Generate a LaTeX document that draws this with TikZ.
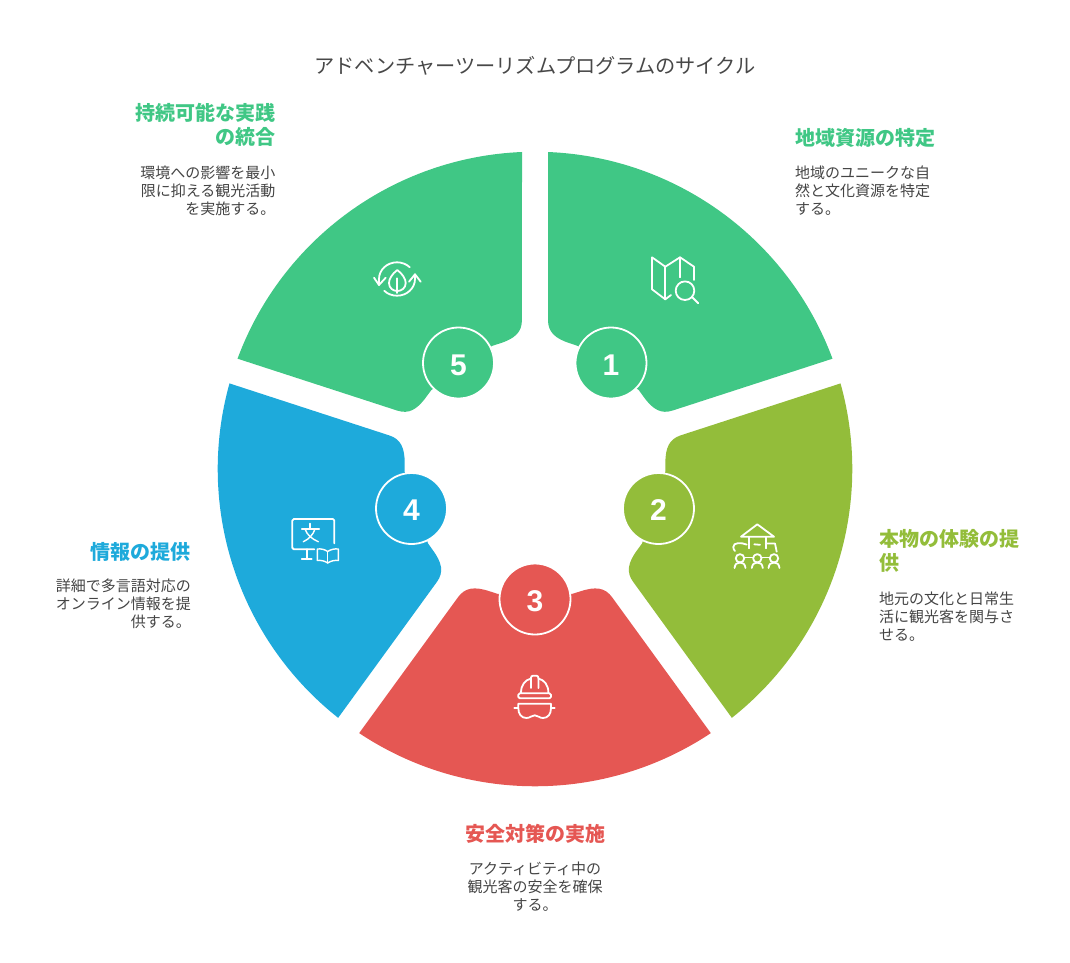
\documentclass[tikz,border=0pt]{standalone}
\usepackage{fontspec}
\setmainfont{Noto Sans CJK JP}
\newfontfamily\digitfont{Liberation Sans}
\definecolor{leafgreen}{HTML}{40C785}
\definecolor{olivegreen}{HTML}{93BD3A}
\definecolor{alertred}{HTML}{E55753}
\definecolor{skyblue}{HTML}{1EAADB}
\definecolor{bodygrey}{HTML}{444444}
\definecolor{titlegrey}{HTML}{484848}
\newcommand{\segmentpath}{(13,-317) arc[start angle=87.65, end angle=20.35, radius=317.3pt]
  -- (137.7,-58.5) .. controls (126.3,-54.7) and (117.9,-59.3) .. (108.7,-72.1)
  -- (103.8,-78.9) -- (43,-123) -- (35,-125.7)
  .. controls (20,-130.5) and (13,-137) .. (13,-149) -- cycle}
\tikzset{
  numdisc/.style={circle, draw=white, line width=1.8pt, minimum size=71pt, inner sep=0pt,
    text=white, text height=24pt, text depth=0pt, font=\digitfont\bfseries\fontsize{30}{30}\selectfont},
  headtext/.style={inner sep=0pt, font=\bfseries\fontsize{20}{24}\selectfont},
  bodytext/.style={inner sep=0pt, text=bodygrey, font=\fontsize{15}{18}\selectfont},
  iconline/.style={draw=white, line width=1.8pt, line cap=round, line join=round}
}

\begin{document}
\begin{tikzpicture}[x=1pt, y=-1pt]
  \useasboundingbox (0,0) rectangle (1070,962);
  % the five segments
  \fill[leafgreen, shift={(535,469)}] \segmentpath;
  \fill[olivegreen, shift={(535,469)}, rotate=-72] \segmentpath;
  \fill[alertred, shift={(535,469)}, rotate=-144] \segmentpath;
  \fill[skyblue, shift={(535,469)}, rotate=-216] \segmentpath;
  \fill[leafgreen, shift={(535,469)}, rotate=-288] \segmentpath;
  % number discs
  \node[numdisc, fill=leafgreen] (disc1) at (611,363) {1};
  \node[numdisc, fill=olivegreen] (disc2) at (658.5,508.5) {2};
  \node[numdisc, fill=alertred] (disc3) at (535,599) {3};
  \node[numdisc, fill=skyblue] (disc4) at (411.5,508.5) {4};
  \node[numdisc, fill=leafgreen] (disc5) at (458.5,363) {5};
  % title
  \node[inner sep=0pt, text=titlegrey, font=\fontsize{20.2}{24}\selectfont] (title) at (535,66)
    {アドベンチャーツーリズムプログラムのサイクル};
  % labels
  \node[headtext, text=leafgreen, anchor=west] (head1) at (795,138) {地域資源の特定};
  \node[bodytext, align=left, anchor=north west] (body1) at (795,166)
    {地域のユニークな自\\然と文化資源を特定\\する。};
  \node[headtext, text=olivegreen, align=left, anchor=north west] (head2) at (879,529.5)
    {本物の体験の提\\供};
  \node[bodytext, align=left, anchor=north west] (body2) at (879,592)
    {地元の文化と日常生\\活に観光客を関与さ\\せる。};
  \node[headtext, text=alertred] (head3) at (535,834) {安全対策の実施};
  \node[bodytext, align=center, anchor=north] (body3) at (535,862)
    {アクティビティ中の\\観光客の安全を確保\\する。};
  \node[headtext, text=skyblue, anchor=east] (head4) at (191,552) {情報の提供};
  \node[bodytext, align=right, anchor=north east] (body4) at (191,579)
    {詳細で多言語対応の\\オンライン情報を提\\供する。};
  \node[headtext, text=leafgreen, align=right, anchor=north east] (head5) at (275.5,103.5)
    {持続可能な実践\\の統合};
  \node[bodytext, align=right, anchor=north east] (body5) at (275.5,166)
    {環境への影響を最小\\限に抑える観光活動\\を実施する。};
  % map icon
  \draw[iconline] (694,280) -- (694,266.7) -- (680,257.3) -- (665.3,266.7) -- (652,257.3) -- (652,289.3) -- (665.3,299.3) -- (671,295);
  \draw[iconline] (665.3,266.7) -- (665.3,299.3);
  \draw[iconline] (680,257.3) -- (680,277.3);
  \draw[iconline] (685,290.7) circle[radius=9.3pt];
  \draw[iconline] (692,297) -- (698.3,303.3);
  % school icon
  \draw[iconline] (741,536.7) -- (757.3,524.3) -- (774,536.7) -- cycle;
  \draw[iconline] (749,536.7) -- (749,548.3);
  \draw[iconline] (765.7,536.7) -- (765.7,548.3);
  \draw[iconline] (754.3,544.3) -- (760,544.8);
  \draw[iconline] (746.7,544.6) .. controls (742,542.5) and (733,542) .. (733.3,547) .. controls (733.4,549) and (734,550) .. (735,551);
  \draw[iconline] (765.7,543.5) -- (775,543.5) -- (776.7,551.7);
  \draw[iconline] (740,558.3) circle[radius=4.2pt];
  \draw[iconline] (757.3,558.3) circle[radius=4.2pt];
  \draw[iconline] (774,558.3) circle[radius=4.2pt];
  \draw[iconline] (734.5,568) .. controls (735,564) and (737,562.5) .. (740,562.5) .. controls (743,562.5) and (745,564) .. (745.5,568);
  \draw[iconline] (751.8,568) .. controls (752.3,564) and (754.3,562.5) .. (757.3,562.5) .. controls (760.3,562.5) and (762.3,564) .. (762.8,568);
  \draw[iconline] (768.5,568) .. controls (769,564) and (771,562.5) .. (774,562.5) .. controls (777,562.5) and (779,564) .. (779.5,568);
  \draw[iconline] (744.5,557.5) -- (753,557.5);
  \draw[iconline] (761.8,557.5) -- (769.5,557.5);
  % helmet icon
  \draw[iconline, rounded corners=1.5pt] (518.3,693.3) rectangle (551,698.3);
  \draw[iconline] (521,692.7) .. controls (521,685) and (525,680) .. (531,678.5);
  \draw[iconline] (548.4,692.7) .. controls (548.4,685) and (544.4,680) .. (538.4,678.5);
  \draw[iconline, rounded corners=2pt] (531,688) -- (531,675.7) -- (538.4,675.7) -- (538.4,688);
  \draw[iconline] (514.3,707.7) -- (518.3,707.7);
  \draw[iconline] (551,707.7) -- (554.7,707.7);
  \draw[iconline] (518.3,703.7) -- (551,703.7) -- (551,708) .. controls (551,714) and (548,718) .. (543,718)
    .. controls (539,718) and (538,715.3) .. (534.7,715.3) .. controls (531.4,715.3) and (530.4,718) .. (526.4,718)
    .. controls (521.4,718) and (518.3,714) .. (518.3,708) -- cycle;
  % screen and book icon
  \draw[iconline, rounded corners=1.5pt] (334.3,543.3) -- (334.3,519) -- (292.3,519) -- (292.3,549.3) -- (314.3,549.3);
  \draw[iconline] (306.7,549.3) -- (306.7,559.3);
  \draw[iconline] (301.7,559.3) -- (311.7,559.3);
  \draw[iconline, line width=1.4pt] (310,523.5) -- (310,529);
  \draw[iconline, line width=1.4pt] (301.7,529) -- (319.3,529);
  \draw[iconline, line width=1.4pt] (315,529) .. controls (313,535) and (309,539) .. (303.3,541.7);
  \draw[iconline, line width=1.4pt] (305,529) .. controls (307,535) and (312,539) .. (318.3,541.7);
  \draw[iconline, line width=1.4pt] (327.7,551.5) .. controls (325,549.5) and (321,548.5) .. (317.3,549) -- (317.3,560.5) .. controls (321,560) and (325,561) .. (327.7,563)
    .. controls (330.4,561) and (334.6,560) .. (338.3,560.5) -- (338.3,549) .. controls (334.6,548.5) and (330.4,549.5) .. (327.7,551.5) -- cycle;
  \draw[iconline, line width=1.4pt] (327.7,551.5) -- (327.7,563);
  % cycle and leaf icon
  \draw[iconline] (379,285) -- (379,279) arc[start angle=180, end angle=45, x radius=18pt, y radius=16.7pt];
  \draw[iconline] (374,277.7) -- (379,285) -- (385.7,277.7);
  \draw[iconline] (415,274.3) -- (415,279) arc[start angle=0, end angle=-135, x radius=18pt, y radius=16.7pt];
  \draw[iconline] (409,281.7) -- (415,274.3) -- (420.7,281.7);
  \draw[iconline] (397.3,270) .. controls (392,274) and (389,279) .. (389,283) .. controls (389,288) and (393,291) .. (397.3,291)
    .. controls (401.6,291) and (405.7,288) .. (405.7,283) .. controls (405.7,279) and (402.6,274) .. (397.3,270) -- cycle;
  \draw[iconline] (397.3,278.3) -- (397.3,293);
\end{tikzpicture}
\end{document}
